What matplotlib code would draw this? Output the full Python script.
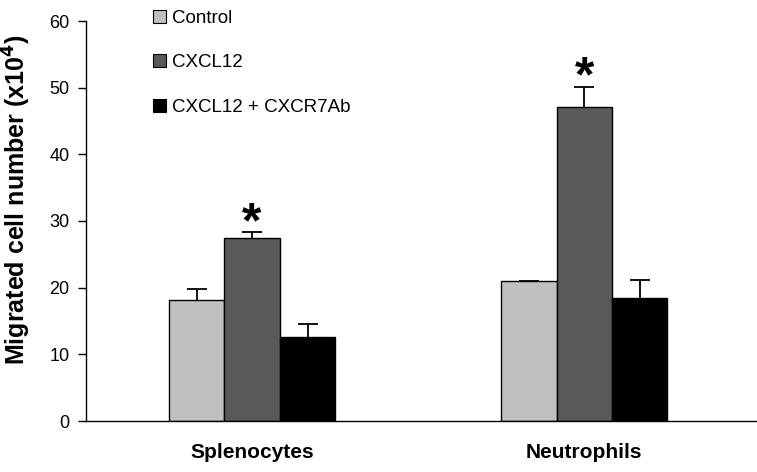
import numpy as np
import matplotlib
matplotlib.use("Agg")
import matplotlib.pyplot as plt
from matplotlib.patches import Patch

plt.rcParams['font.family'] = ['Liberation Sans', 'DejaVu Sans']

# data
cells = ['Splenocytes', 'Neutrophils']
groups = ['Control', 'CXCL12', 'CXCL12 + CXCR7Ab']
colors = ['#c0c0c0', '#595959', '#000000']
means = [[18.1, 21.0],
         [27.4, 47.1],
         [12.6, 18.5]]
errs = [[1.7, 0.05],
        [0.9, 3.0],
        [2.0, 2.6]]
stars = [False, True, False]

fig = plt.figure(figsize=(7.57, 4.72), dpi=100)
ax = fig.add_axes([86 / 757, 1 - 421 / 472, 1 - 86 / 757, 400 / 472])

x = np.arange(len(cells))
w = 0.167
cap = 0.03
for i, g in enumerate(groups):
    pos = x + (i - 1) * w
    top = np.array(means[i]) + np.array(errs[i])
    ax.vlines(pos, means[i], top, color='black', linewidth=1.3, zorder=1)
    ax.hlines(top, pos - cap, pos + cap, color='black', linewidth=1.3, zorder=1)
    ax.bar(pos, means[i], width=w, color=colors[i], edgecolor='black', linewidth=1.0, zorder=2)
    if stars[i]:
        for p, t in zip(pos, top):
            ax.text(p, t - 2.2, '*', ha='center', va='bottom', fontsize=36, fontweight='bold')

ax.set_xlim(-0.5, 1.52)
ax.set_ylim(0, 60)
ax.set_yticks(range(0, 61, 10))
ax.tick_params(axis='y', labelsize=13, length=6, width=1, direction='out', pad=6)
ax.set_xticks(x)
ax.set_xticklabels(cells, fontsize=15, fontweight='bold')
ax.tick_params(axis='x', length=0, pad=16)
for s in ['top', 'right']:
    ax.spines[s].set_visible(False)
ax.spines['left'].set_linewidth(1)
ax.spines['bottom'].set_linewidth(1)
ax.set_ylabel('Migrated cell number (x10$^{\\mathbf{4}}$)', fontsize=18, fontweight='bold')
ax.yaxis.set_label_coords(-0.079, 0.5525)

handles = [Patch(facecolor=c, edgecolor='black', linewidth=0.8) for c in colors]
ax.legend(handles, groups, loc='upper left', bbox_to_anchor=(153 / 757, 1 - 10 / 472),
          bbox_transform=fig.transFigure, frameon=False, fontsize=13.5,
          handlelength=0.7, handleheight=0.7, handletextpad=0.3, labelspacing=1.45,
          borderpad=0, borderaxespad=0)

fig.savefig('out.png', dpi=100)
